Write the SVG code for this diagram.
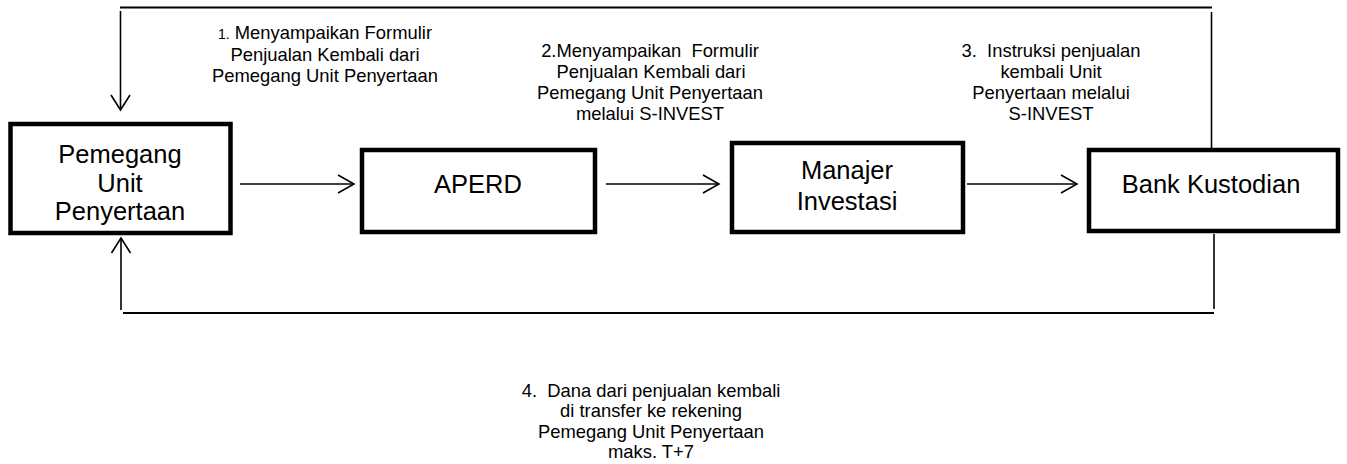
<svg xmlns="http://www.w3.org/2000/svg" width="1347" height="464" viewBox="0 0 1347 464">
<style>
  .box{fill:#fff;stroke:#000;stroke-width:4.5;}
  .bt{font-family:"Liberation Sans",Arial,sans-serif;font-size:25.5px;fill:#000;text-anchor:middle;}
  .lt{font-family:"Liberation Sans",Arial,sans-serif;font-size:18.4px;fill:#000;text-anchor:middle;}
  .ln{fill:none;stroke:#000;stroke-width:1.6;}
  .lnt{fill:none;stroke:#000;stroke-width:2.2;}
  .ah{fill:none;stroke:#000;stroke-width:1.6;}
</style>
<rect width="1347" height="464" fill="#fff"/>
<g id="connectors">
  <!-- top loop -->
  <line class="lnt" x1="120" y1="7.5" x2="1212" y2="7.5"/>
  <line class="ln" x1="1211.5" y1="12" x2="1211.5" y2="150"/>
  <line class="ln" x1="120.5" y1="11" x2="120.5" y2="109"/>
  <polyline class="ah" points="111,95 120.5,110 130,95"/>
  <!-- bottom loop -->
  <line class="ln" x1="1214" y1="234" x2="1214" y2="309"/>
  <line class="lnt" x1="123" y1="313" x2="1214" y2="313"/>
  <line class="ln" x1="121" y1="310" x2="121" y2="239"/>
  <polyline class="ah" points="111.5,253 121,238 130.5,253"/>
  <!-- horizontal arrows -->
  <line class="ln" x1="240" y1="184" x2="354" y2="184"/>
  <polyline class="ah" points="338,175 354,184 338,193"/>
  <line class="ln" x1="606" y1="184" x2="719" y2="184"/>
  <polyline class="ah" points="703,175 719,184 703,193"/>
  <line class="ln" x1="967" y1="184" x2="1077" y2="184"/>
  <polyline class="ah" points="1061,175 1077,184 1061,193"/>
</g>
<g id="label1">
  <text class="lt" x="325" y="39"><tspan font-size="14">1.</tspan> Menyampaikan Formulir</text>
  <text class="lt" x="325" y="60.5">Penjualan Kembali dari</text>
  <text class="lt" x="325" y="81.5">Pemegang Unit Penyertaan</text>
</g>
<g id="label2">
  <text class="lt" x="650" y="57" xml:space="preserve">2.Menyampaikan  Formulir</text>
  <text class="lt" x="651" y="78">Penjualan Kembali dari</text>
  <text class="lt" x="650" y="99">Pemegang Unit Penyertaan</text>
  <text class="lt" x="650" y="120">melalui S-INVEST</text>
</g>
<g id="label3">
  <text class="lt" x="1051" y="57" xml:space="preserve">3.  Instruksi penjualan</text>
  <text class="lt" x="1051" y="78">kembali Unit</text>
  <text class="lt" x="1051" y="99">Penyertaan melalui</text>
  <text class="lt" x="1051" y="120">S-INVEST</text>
</g>
<g id="label4">
  <text class="lt" x="651" y="396.5" xml:space="preserve">4.  Dana dari penjualan kembali</text>
  <text class="lt" x="651" y="417">di transfer ke rekening</text>
  <text class="lt" x="651" y="437.5">Pemegang Unit Penyertaan</text>
  <text class="lt" x="651" y="458">maks. T+7</text>
</g>
<g id="node-pemegang">
  <rect class="box" x="10.5" y="124" width="220" height="109"/>
  <text class="bt" x="120" y="163">Pemegang</text>
  <text class="bt" x="120" y="191.5">Unit</text>
  <text class="bt" x="120" y="220">Penyertaan</text>
</g>
<g id="node-aperd">
  <rect class="box" x="362" y="150" width="233" height="82"/>
  <text class="bt" x="478" y="193">APERD</text>
</g>
<g id="node-manajer">
  <rect class="box" x="732" y="143" width="231" height="89"/>
  <text class="bt" x="847" y="179">Manajer</text>
  <text class="bt" x="847" y="210">Investasi</text>
</g>
<g id="node-bank">
  <rect class="box" x="1089" y="150" width="249" height="81"/>
  <text class="bt" x="1211" y="192.5">Bank Kustodian</text>
</g>
</svg>
